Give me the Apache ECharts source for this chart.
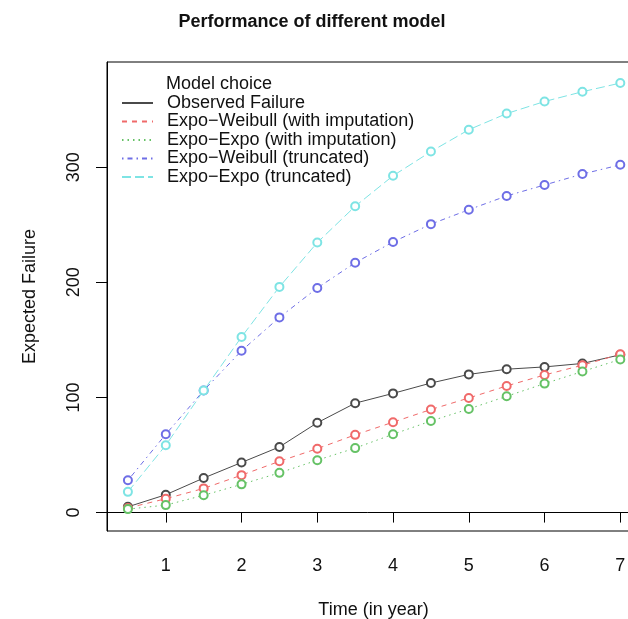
<!DOCTYPE html>
<html>
<head>
<meta charset="utf-8">
<script src="https://cdn.jsdelivr.net/npm/echarts@6/dist/echarts.min.js"></script>
<style>
html,body{margin:0;padding:0;background:#fff;}
#chart{width:628px;height:619px;}
</style>
</head>
<body>
<div id="chart"></div>
<script>
// ---- data ----
var time = [0.5, 1, 1.5, 2, 2.5, 3, 3.5, 4, 4.5, 5, 5.5, 6, 6.5, 7];
var observedFailure = [5, 15.5, 30, 43.5, 57, 78, 95, 103.5, 112.5, 120, 124.5, 126.5, 129.5, 137];
var expoWeibullImp = [4, 12, 21, 32.5, 44.5, 55.5, 67.5, 78.5, 89.5, 99.5, 110, 119.5, 128, 137.5];
var expoExpoImp = [3, 6.5, 15, 24.5, 34.5, 45.5, 56, 68, 79.5, 90, 101, 112, 122.5, 133];
var expoWeibullTrunc = [28, 68, 106, 140.5, 169.5, 195, 217, 235, 250.5, 263, 275, 284.5, 294, 302];
var expoExpoTrunc = [18, 58.5, 106, 152.5, 196, 234.5, 266, 292.5, 313.5, 332.5, 346.5, 357, 365.5, 373];
var seriesNames = ['Observed Failure', 'Expo\u2212Weibull (with imputation)', 'Expo\u2212Expo (with imputation)', 'Expo\u2212Weibull (truncated)', 'Expo\u2212Expo (truncated)'];
var xTicks = [1, 2, 3, 4, 5, 6, 7];
var yTicks = [0, 100, 200, 300];

var FONT = 'Liberation Sans, Arial, sans-serif';
var FS = 18;

function pairs(ys) { return time.map(function (t, i) { return [t, ys[i]]; }); }

var styles = [
  { color: '#4a4a4a', dash: 'solid' },
  { color: '#f06a6a', dash: [5, 5] },
  { color: '#66c266', dash: [1.5, 4] },
  { color: '#6e6ee6', dash: [1.5, 4, 5, 4] },
  { color: '#7ee4e4', dash: [9, 4] }
];
var allData = [observedFailure, expoWeibullImp, expoExpoImp, expoWeibullTrunc, expoExpoTrunc];

var series = allData.map(function (d, i) {
  return {
    name: seriesNames[i],
    type: 'line',
    data: pairs(d),
    symbol: 'emptyCircle',
    symbolSize: 8,
    showAllSymbol: true,
    z: 2 + i,
    lineStyle: { color: styles[i].color, width: 1, type: styles[i].dash },
    itemStyle: { color: styles[i].color, borderColor: styles[i].color, borderWidth: 1 },
    emphasis: { disabled: true },
    animation: false
  };
});

var chart = echarts.init(document.getElementById('chart'), null, { renderer: 'canvas' });
chart.setOption({
  backgroundColor: '#fff',
  animation: false,
  title: [
    { text: 'Performance of different model', left: 307, top: 8, textAlign: 'center',
      textStyle: { fontFamily: FONT, fontSize: FS, fontWeight: 'bold', color: '#111' } },
    { text: 'Model choice', left: 161, top: 70,
      textStyle: { fontFamily: FONT, fontSize: FS, fontWeight: 'normal', color: '#111' } }
  ],
  legend: {
    orient: 'vertical',
    left: 121,
    top: 94,
    padding: 0,
    itemWidth: 31,
    itemHeight: 14,
    itemGap: 0.5,
    itemStyle: { opacity: 0 },
    selectedMode: false,
    data: seriesNames,
    textStyle: { fontFamily: FONT, fontSize: FS, lineHeight: 18, color: '#111', padding: [0, 0, 0, 9] }
  },
  grid: { left: 107, right: -12, top: 62, bottom: 88, outerBoundsMode: 'none', show: true, borderColor: '#000', borderWidth: 1, containLabel: false },
  xAxis: {
    type: 'value', min: 0.224, max: 7.26,
    name: 'Time (in year)', nameLocation: 'middle', nameGap: 70,
    nameTextStyle: { fontFamily: FONT, fontSize: FS, color: '#111' },
    axisLine: { show: true, lineStyle: { color: '#000', width: 1 } },
    axisTick: { show: true, length: 10, customValues: xTicks, lineStyle: { color: '#000' } },
    axisLabel: { customValues: xTicks, margin: 26, fontFamily: FONT, fontSize: FS, color: '#111' },
    splitLine: { show: false }
  },
  yAxis: {
    type: 'value', min: -16, max: 391.3,
    name: 'Expected Failure', nameLocation: 'middle', nameGap: 68, nameRotate: 90,
    nameTextStyle: { fontFamily: FONT, fontSize: FS, color: '#111' },
    axisLine: { show: true, lineStyle: { color: '#000', width: 1 } },
    axisTick: { show: true, length: 11, customValues: yTicks, lineStyle: { color: '#000' } },
    axisLabel: { customValues: yTicks, rotate: 90, margin: 24, fontFamily: FONT, fontSize: FS, color: '#111' },
    splitLine: { show: false }
  },
  series: series
});
</script>
</body>
</html>
